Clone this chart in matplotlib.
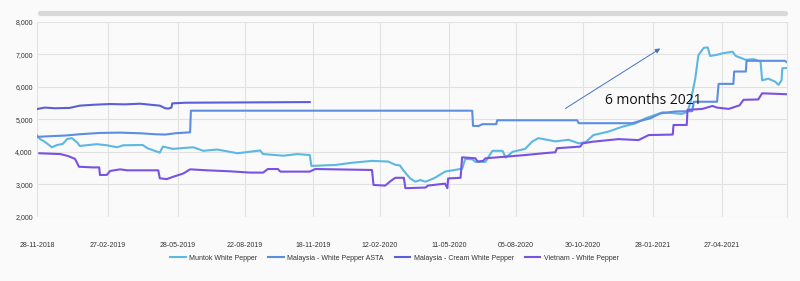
import pandas as pd
import matplotlib.pyplot as plt
from matplotlib.lines import Line2D
from matplotlib.ticker import FuncFormatter

# ---------------------------------------------------------
# Data
# ---------------------------------------------------------
muntok_dates = [
    "2018-11-28", "2018-12-02", "2018-12-08", "2018-12-17", "2018-12-24", "2018-12-31",
    "2019-01-06", "2019-01-12", "2019-01-19", "2019-01-22", "2019-02-13", "2019-02-26",
    "2019-03-11", "2019-03-19", "2019-04-13", "2019-04-19", "2019-05-05", "2019-05-09",
    "2019-05-22", "2019-06-17", "2019-06-30", "2019-07-18", "2019-08-13", "2019-09-11",
    "2019-09-15", "2019-10-11", "2019-10-29", "2019-11-14", "2019-11-16", "2019-12-17",
    "2020-01-08", "2020-02-02", "2020-02-23", "2020-03-03", "2020-03-09", "2020-03-13",
    "2020-03-22", "2020-03-29", "2020-04-04", "2020-04-11", "2020-04-23", "2020-05-06",
    "2020-05-23", "2020-05-28", "2020-06-01", "2020-06-10", "2020-06-14", "2020-06-27",
    "2020-07-06", "2020-07-19", "2020-07-23", "2020-08-01", "2020-08-17", "2020-08-26",
    "2020-09-03", "2020-09-12", "2020-09-25", "2020-10-12", "2020-10-25", "2020-11-03",
    "2020-11-13", "2020-12-02", "2020-12-20", "2021-01-06", "2021-01-19", "2021-02-10",
    "2021-03-07", "2021-03-14", "2021-03-18", "2021-03-24", "2021-03-28", "2021-04-04",
    "2021-04-09", "2021-04-12", "2021-04-20", "2021-04-28", "2021-05-11", "2021-05-15",
    "2021-05-28", "2021-06-07", "2021-06-16", "2021-06-18", "2021-06-26", "2021-07-05",
    "2021-07-09", "2021-07-13", "2021-07-14", "2021-07-21",
]
muntok_vals = [
    4500, 4390, 4310, 4140, 4210, 4240,
    4395, 4420, 4280, 4180, 4235, 4200,
    4140, 4200, 4210, 4110, 3975, 4160,
    4090, 4140, 4030, 4070, 3955, 4040,
    3930, 3880, 3930, 3900, 3565, 3595,
    3665, 3720, 3700, 3600, 3580, 3440,
    3185, 3080, 3130, 3080, 3200, 3390,
    3460, 3480, 3780, 3770, 3690, 3690,
    4030, 4030, 3820, 4000, 4090, 4310,
    4420, 4380, 4320, 4370, 4260, 4300,
    4515, 4620, 4770, 4875, 5030, 5215,
    5165, 5235, 5540, 6260, 6975, 7200,
    7210, 6950, 6980, 7030, 7080, 6950,
    6830, 6850, 6780, 6200, 6250, 6155,
    6060, 6200, 6570, 6580,
]

asta_dates = [
    "2018-11-28", "2018-12-15", "2019-01-03", "2019-01-22", "2019-02-17", "2019-03-15",
    "2019-04-10", "2019-04-29", "2019-05-12", "2019-05-25", "2019-06-07", "2019-06-13",
    "2019-06-14", "2020-06-10", "2020-06-11", "2020-06-18", "2020-06-23", "2020-07-11",
    "2020-07-12", "2020-10-23", "2020-10-25", "2021-01-02", "2021-01-12", "2021-01-25",
    "2021-02-07", "2021-02-26", "2021-03-20", "2021-03-22", "2021-04-21", "2021-04-23",
    "2021-05-12", "2021-05-13", "2021-05-28", "2021-05-29", "2021-07-17", "2021-07-21",
]
asta_vals = [
    4460, 4480, 4500, 4540, 4580, 4590,
    4570, 4540, 4530, 4570, 4590, 4600,
    5265, 5265, 4800, 4790, 4850, 4850,
    4970, 4970, 4880, 4880, 4950, 5030,
    5180, 5240, 5250, 5540, 5540, 6090,
    6090, 6470, 6470, 6800, 6800, 6740,
]

cream_dates = [
    "2018-11-29", "2018-12-08", "2018-12-21", "2019-01-09", "2019-01-22", "2019-02-11",
    "2019-03-02", "2019-03-21", "2019-04-10", "2019-04-22", "2019-05-05", "2019-05-12",
    "2019-05-16", "2019-05-20", "2019-05-21", "2019-06-07", "2019-08-29", "2019-11-14",
]
cream_vals = [
    5320, 5360, 5340, 5350, 5420, 5450,
    5470, 5460, 5480, 5450, 5420, 5340,
    5330, 5360, 5490, 5510, 5520, 5530,
]

vietnam_dates = [
    "2018-12-01", "2018-12-28", "2019-01-07", "2019-01-16", "2019-01-21", "2019-02-08",
    "2019-02-16", "2019-02-17", "2019-02-26", "2019-03-02", "2019-03-15", "2019-03-24",
    "2019-05-03", "2019-05-05", "2019-05-14", "2019-05-22", "2019-06-04", "2019-06-13",
    "2019-07-05", "2019-08-03", "2019-08-29", "2019-09-15", "2019-09-21", "2019-10-04",
    "2019-10-07", "2019-11-14", "2019-11-21", "2020-02-02", "2020-02-04", "2020-02-19",
    "2020-02-26", "2020-03-03", "2020-03-14", "2020-03-16", "2020-04-11", "2020-04-14",
    "2020-05-06", "2020-05-09", "2020-05-10", "2020-05-26", "2020-05-28", "2020-06-14",
    "2020-06-17", "2020-06-24", "2020-06-27", "2020-07-23", "2020-08-17", "2020-09-12",
    "2020-09-25", "2020-09-27", "2020-10-27", "2020-10-30", "2020-11-12", "2020-12-15",
    "2021-01-10", "2021-01-23", "2021-02-23", "2021-02-24", "2021-03-13", "2021-03-14",
    "2021-04-02", "2021-04-15", "2021-04-21", "2021-05-06", "2021-05-20", "2021-05-25",
    "2021-06-13", "2021-06-18", "2021-07-21",
]
vietnam_vals = [
    3955, 3930, 3870, 3780, 3540, 3520,
    3520, 3285, 3290, 3410, 3460, 3430,
    3430, 3185, 3160, 3230, 3330, 3460,
    3430, 3400, 3360, 3360, 3470, 3470,
    3390, 3390, 3470, 3440, 2980, 2960,
    3100, 3200, 3200, 2880, 2900, 2960,
    3020, 2880, 3180, 3200, 3830, 3800,
    3700, 3720, 3800, 3850, 3900, 3960,
    3985, 4110, 4160, 4260, 4310, 4390,
    4360, 4515, 4530, 4825, 4825, 5290,
    5320, 5410, 5360, 5320, 5430, 5600,
    5610, 5800, 5770,
]

series = [
    ("Muntok White Pepper", muntok_dates, muntok_vals, "#5cb8e2"),
    ("Malaysia - White Pepper ASTA", asta_dates, asta_vals, "#5b8ee0"),
    ("Malaysia - Cream White Pepper", cream_dates, cream_vals, "#5b5edb"),
    ("Vietnam - White Pepper", vietnam_dates, vietnam_vals, "#7a52e2"),
]

tick_dates = [
    "2018-11-28", "2019-02-27", "2019-05-28", "2019-08-22", "2019-11-18", "2020-02-12",
    "2020-05-11", "2020-08-05", "2020-10-30", "2021-01-28", "2021-04-27",
]

# ---------------------------------------------------------
# Plot
# ---------------------------------------------------------
plt.rcParams["font.family"] = ["Liberation Sans", "DejaVu Sans"]

fig = plt.figure(figsize=(8, 2.81), dpi=100, facecolor="#fafafa")
ax = fig.add_axes([0.04625, 0.2285, 0.9375, 0.6939])
ax.set_facecolor("#fafafa")

for name, d, v, c in series:
    ax.plot(pd.to_datetime(d), v, color=c, lw=1.5, label=name)

ax.set_xlim(pd.Timestamp("2018-11-28"), pd.Timestamp("2021-07-20"))
ax.set_ylim(2000, 8000)
ax.set_yticks(range(2000, 8001, 1000))
ax.yaxis.set_major_formatter(FuncFormatter(lambda v, p: f"{v:,.0f}"))

ticks = pd.to_datetime(tick_dates)
ax.set_xticks(ticks)
ax.set_xticklabels([t.strftime("%d-%m-%Y") for t in ticks])

ax.tick_params(axis="both", length=0, labelsize=5, colors="#333333")
ax.tick_params(axis="x", pad=18.5)
ax.tick_params(axis="y", pad=3)

ax.grid(color="#e2e2e2", lw=0.8)
for s in ["left", "top", "bottom"]:
    ax.spines[s].set_visible(False)
ax.spines["right"].set_color("#e2e2e2")
ax.spines["right"].set_linewidth(0.8)

# annotation
ax.annotate(
    "",
    xy=(pd.Timestamp("2021-02-10"), 7225),
    xytext=(pd.Timestamp("2020-10-05"), 5290),
    arrowprops=dict(arrowstyle="-|>", color="#4472c4", lw=0.7, mutation_scale=7),
)
ax.text(pd.Timestamp("2021-01-29"), 5590, "6 months 2021", ha="center", va="center",
        fontsize=10, family=["Open Sans", "DejaVu Sans"], color="#111111")

# scrollbar
fig.add_artist(Line2D([0.05, 0.981], [1 - 12.8 / 281] * 2, transform=fig.transFigure,
                      color="#d9d9d9", lw=3.8, solid_capstyle="round"))

fig.legend(loc="center", bbox_to_anchor=(0.493, 1 - 258 / 281), ncol=4, frameon=False,
           fontsize=5, handlelength=2.2, handletextpad=0.5, columnspacing=1.6,
           labelcolor="#333333")

fig.savefig("out.png", dpi=100, facecolor=fig.get_facecolor())
